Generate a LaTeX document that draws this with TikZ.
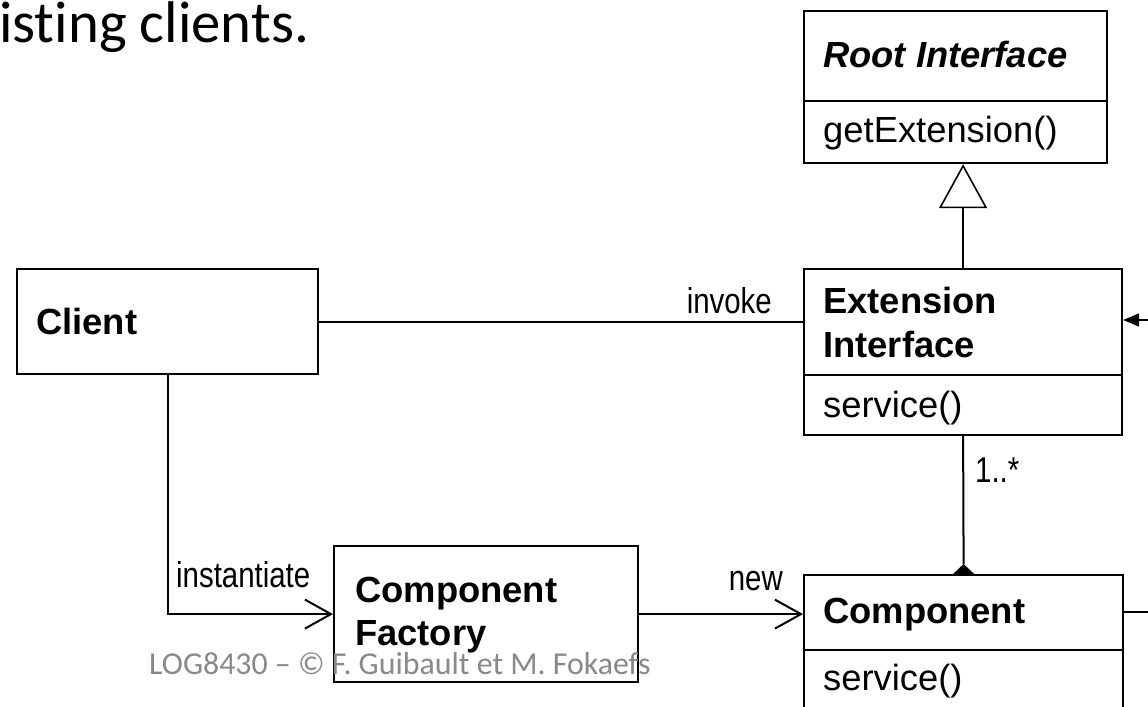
\documentclass[tikz,border=0pt]{standalone}
\usepackage{fontspec}
\setmainfont{Liberation Sans}
\newfontfamily\slidefont{Carlito}[Ligatures=NoCommon]
\newfontfamily\narrowfont{Liberation Sans}[FakeStretch=0.82]
\usetikzlibrary{arrows.meta}
\definecolor{footgray}{RGB}{137,137,137}
\tikzset{
  umlbox/.style={draw, line width=2.2bp, fill=white, inner sep=0pt, anchor=north west},
  boxtext/.style={anchor=base west, inner sep=0pt, font=\fontsize{36.5}{44}\selectfont},
  lbl/.style={anchor=base west, inner sep=0pt, font=\narrowfont\fontsize{36}{44}\selectfont},
  conn/.style={line width=2bp},
  openhead/.style={conn, -{Straight Barb[length=26bp, width=29bp]}},
}
\begin{document}
\begin{tikzpicture}[x=1bp, y=-1bp]
  \useasboundingbox (0,0) rectangle (1148,707);
  \clip (0,0) rectangle (1148,707);

  % slide text
  \node[anchor=base west, inner sep=0pt, font=\slidefont\fontsize{59}{62}\selectfont] (head) at (-1,43) {isting clients.};

  % class boxes
  \node[umlbox, minimum width=301bp, minimum height=105bp] (client) at (16,268) {};
  \node[umlbox, minimum width=303bp, minimum height=152bp] (root) at (803,10) {};
  \node[umlbox, minimum width=318bp, minimum height=166bp] (ext) at (803,268) {};
  \node[umlbox, minimum width=304bp, minimum height=136bp] (factory) at (333,545) {};
  \node[umlbox, minimum width=319bp, minimum height=150bp] (comp) at (803,574) {};

  % compartment dividers
  \draw[line width=2.2bp] (root.west |- 0,101) -- (root.east |- 0,101);
  \draw[line width=2.2bp] (ext.west |- 0,375) -- (ext.east |- 0,375);
  \draw[line width=2.2bp] (comp.west |- 0,650) -- (comp.east |- 0,650);

  % class texts
  \node[boxtext, font=\bfseries\itshape\fontsize{36.5}{44}\selectfont] (rootname) at (823,68) {Root Interface};
  \node[boxtext] (rootop) at (823,143) {getExtension()};
  \node[boxtext, font=\bfseries\fontsize{36.5}{44}\selectfont] (clientname) at (36,334) {Client};
  \node[boxtext, font=\bfseries\fontsize{36.5}{44}\selectfont] (extname1) at (823,313) {Extension};
  \node[boxtext, font=\bfseries\fontsize{36.5}{44}\selectfont] (extname2) at (823,357) {Interface};
  \node[boxtext] (extop) at (823,417) {service()};
  \node[boxtext, font=\bfseries\fontsize{36.5}{44}\selectfont] (facname1) at (355,602) {Component};
  \node[boxtext, font=\bfseries\fontsize{36.5}{44}\selectfont] (facname2) at (355,645) {Factory};
  \node[boxtext, font=\bfseries\fontsize{36.5}{44}\selectfont] (compname) at (823,623) {Component};
  \node[boxtext] (compop) at (823,690) {service()};

  % generalization: Extension Interface -> Root Interface
  \draw[line width=1.6bp, -{Triangle[open, length=44bp, width=48bp]}] (ext.north) -- (ext.north |- root.south);

  % client invokes extension interface
  \draw[conn] (client.east) -- (client.east -| ext.west);
  \node[lbl, anchor=base east] (invoke) at (772,313) {invoke};

  % client instantiates factory
  \draw[openhead] (client.south) |- (factory.west);
  \node[lbl] (inst) at (176,587) {instantiate};

  % factory creates component
  \draw[openhead] (factory.east) -- (factory.east -| comp.west);
  \node[lbl, anchor=base east] (newlbl) at (783,590) {new};

  % composition: component owns extension interfaces
  \coordinate (dtip) at ([yshift=10bp]comp.north);
  \draw[conn] (ext.south) -- (dtip);
  \fill (comp.north) ++(-10.5,0) -- (dtip) -- ([xshift=10.5bp]comp.north) -- cycle;
  \node[lbl] (mult) at (975,482) {1..*};

  % connectors leaving to the right
  \coordinate (rin) at (1160,320);
  \coordinate (rout) at (1160,612);
  \draw[conn, -{Triangle[length=16bp, width=13bp]}] (rin) -- (rin -| ext.east);
  \draw[conn] (rout -| comp.east) -- (rout);

  % footer
  \node[anchor=base west, inner sep=0pt, text=footgray, font=\slidefont\fontsize{32}{35}\selectfont] (foot) at (149,674) {LOG8430 – © F. Guibault et M. Fokaefs};
\end{tikzpicture}
\end{document}
